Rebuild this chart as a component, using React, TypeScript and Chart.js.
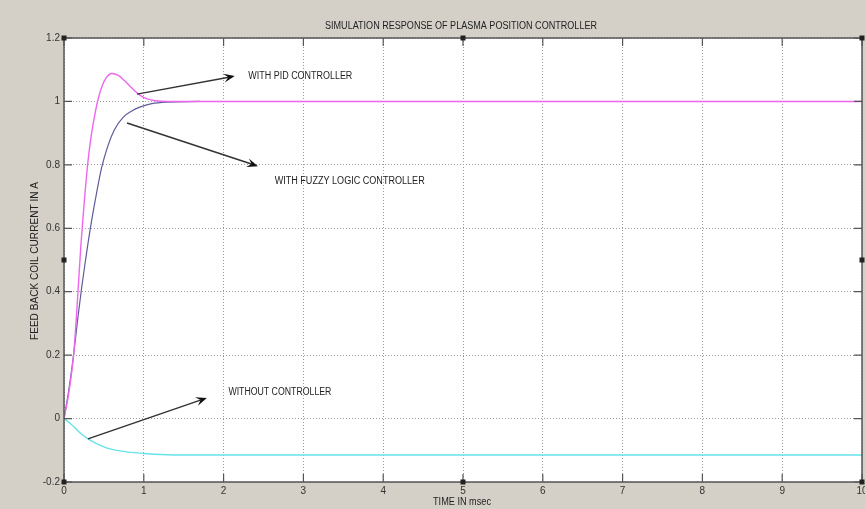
import React, { useEffect, useRef } from "react";
import { Chart, registerables } from "chart.js";
Chart.register(...registerables);

const TITLE = "SIMULATION RESPONSE OF PLASMA POSITION CONTROLLER";
const X_TITLE = "TIME IN msec";
const Y_TITLE = "FEED BACK COIL CURRENT IN A";

const pidT = [0, 0.06, 0.12, 0.15, 0.18, 0.21, 0.24, 0.27, 0.3, 0.34, 0.38, 0.43, 0.48, 0.53, 0.6, 0.68, 0.76, 0.85, 0.95, 1.05, 1.15, 1.3, 2, 4, 6, 8, 10];
const pidV = [0, 0.08, 0.2, 0.3, 0.42, 0.54, 0.64, 0.73, 0.81, 0.89, 0.95, 1.01, 1.05, 1.075, 1.088, 1.082, 1.065, 1.042, 1.02, 1.007, 1.002, 1.0, 1.0, 1.0, 1.0, 1.0, 1.0];

const fuzzyT = [0, 0.06, 0.12, 0.17, 0.22, 0.27, 0.33, 0.4, 0.47, 0.55, 0.63, 0.74, 0.85, 0.95, 1.1, 1.3, 1.7];
const fuzzyV = [0, 0.09, 0.2, 0.31, 0.41, 0.5, 0.6, 0.7, 0.79, 0.86, 0.91, 0.95, 0.97, 0.982, 0.993, 0.998, 1.0];

const noCtrlT = [0, 0.1, 0.2, 0.3, 0.5, 0.7, 1.0, 1.3, 1.6, 4, 7, 10];
const noCtrlV = [0, -0.02, -0.045, -0.064, -0.089, -0.102, -0.11, -0.114, -0.115, -0.115, -0.115, -0.115];

const xTicks = [0, 1, 2, 3, 4, 5, 6, 7, 8, 9, 10];
const yTicks = [-0.2, 0, 0.2, 0.4, 0.6, 0.8, 1, 1.2];

// annotations in data units
const annLabels = ["WITH PID CONTROLLER", "WITH FUZZY LOGIC CONTROLLER", "WITHOUT CONTROLLER"];
const annTextX = [2.31, 2.64, 2.06];
const annTextY = [1.08, 0.749, 0.084];
const annTextW = [104, 150, 103];
const arrowFromX = [0.915, 0.79, 0.3];
const arrowFromY = [1.023, 0.932, -0.064];
const arrowToX = [2.14, 2.43, 1.79];
const arrowToY = [1.08, 0.796, 0.065];

const FONT = '"Liberation Sans", Arial, sans-serif';

function drawFitText(ctx: CanvasRenderingContext2D, text: string, cx: number, cy: number, width: number, size: number, align: "left" | "center") {
  ctx.save();
  ctx.font = `${size}px ${FONT}`;
  ctx.textBaseline = "middle";
  ctx.textAlign = "left";
  const m = ctx.measureText(text).width;
  const s = width / m;
  const left = align === "center" ? cx - width / 2 : cx;
  ctx.translate(left, cy);
  ctx.scale(s, 1);
  ctx.fillText(text, 0, 0);
  ctx.restore();
}

function toXY(t: number[], v: number[]) {
  return t.map((x, i) => ({ x, y: v[i] }));
}

const framePlugin = {
  id: "frame",
  beforeDraw(chart: any) {
    const { ctx, chartArea: a } = chart;
    ctx.save();
    ctx.fillStyle = "#ffffff";
    ctx.fillRect(a.left, a.top, a.right - a.left, a.bottom - a.top);
    ctx.restore();
  },
  afterDraw(chart: any) {
    const { ctx, chartArea: a, scales } = chart;
    const xs = scales.x, ys = scales.y;
    ctx.save();
    ctx.strokeStyle = "#555555";
    ctx.lineWidth = 1.5;
    ctx.strokeRect(a.left, a.top, a.right - a.left, a.bottom - a.top);
    ctx.lineWidth = 1.2;
    ctx.strokeStyle = "#555555";
    const L = 8;
    xTicks.forEach((t) => {
      const px = xs.getPixelForValue(t);
      ctx.beginPath();
      ctx.moveTo(px, a.bottom); ctx.lineTo(px, a.bottom - L);
      ctx.moveTo(px, a.top); ctx.lineTo(px, a.top + L);
      ctx.stroke();
    });
    yTicks.forEach((t) => {
      const py = ys.getPixelForValue(t);
      ctx.beginPath();
      ctx.moveTo(a.left, py); ctx.lineTo(a.left + L, py);
      ctx.moveTo(a.right, py); ctx.lineTo(a.right - L, py);
      ctx.stroke();
    });
    ctx.fillStyle = "#222222";
    const mx = (a.left + a.right) / 2, my = (a.top + a.bottom) / 2;
    const pts = [[a.left, a.top], [mx, a.top], [a.right, a.top], [a.left, my], [a.right, my], [a.left, a.bottom], [mx, a.bottom], [a.right, a.bottom]];
    pts.forEach(([px, py]) => ctx.fillRect(px - 2.5, py - 2.5, 5, 5));

    ctx.fillStyle = "#222222";
    drawFitText(ctx, TITLE, 461, 26, 272, 10, "center");
    drawFitText(ctx, X_TITLE, 462, 502, 58, 10, "center");
    ctx.save();
    ctx.translate(35, 261);
    ctx.rotate(-Math.PI / 2);
    drawFitText(ctx, Y_TITLE, 0, 0, 158, 10, "center");
    ctx.restore();

    for (let i = 0; i < annLabels.length; i++) {
      const tx = xs.getPixelForValue(annTextX[i]);
      const ty = ys.getPixelForValue(annTextY[i]);
      drawFitText(ctx, annLabels[i], tx, ty, annTextW[i], 10, "left");
      const x1 = xs.getPixelForValue(arrowFromX[i]);
      const y1 = ys.getPixelForValue(arrowFromY[i]);
      const x2 = xs.getPixelForValue(arrowToX[i]);
      const y2 = ys.getPixelForValue(arrowToY[i]);
      const ang = Math.atan2(y2 - y1, x2 - x1);
      ctx.strokeStyle = "#333333";
      ctx.lineWidth = 1.5;
      ctx.beginPath();
      ctx.moveTo(x1, y1);
      ctx.lineTo(x2 - 6 * Math.cos(ang), y2 - 6 * Math.sin(ang));
      ctx.stroke();
      ctx.fillStyle = "#111111";
      const hl = 11, hw = 4.5;
      ctx.beginPath();
      ctx.moveTo(x2, y2);
      ctx.lineTo(x2 - hl * Math.cos(ang) + hw * Math.sin(ang), y2 - hl * Math.sin(ang) - hw * Math.cos(ang));
      ctx.lineTo(x2 - 0.6 * hl * Math.cos(ang), y2 - 0.6 * hl * Math.sin(ang));
      ctx.lineTo(x2 - hl * Math.cos(ang) - hw * Math.sin(ang), y2 - hl * Math.sin(ang) + hw * Math.cos(ang));
      ctx.closePath();
      ctx.fill();
      ctx.fillStyle = "#222222";
    }
    ctx.restore();
  },
};

export default function App() {
  const ref = useRef<HTMLCanvasElement | null>(null);
  useEffect(() => {
    if (!ref.current) return;
    const chart = new Chart(ref.current, {
      type: "line",
      data: {
        datasets: [
          {
            label: "WITH PID CONTROLLER",
            data: toXY(pidT, pidV),
            borderColor: "#ee66ee",
            borderWidth: 1.4,
            pointRadius: 0,
            cubicInterpolationMode: "monotone",
          },
          {
            label: "WITH FUZZY LOGIC CONTROLLER",
            data: toXY(fuzzyT, fuzzyV),
            borderColor: "#5c5c9c",
            borderWidth: 1.2,
            pointRadius: 0,
            cubicInterpolationMode: "monotone",
          },
          {
            label: "WITHOUT CONTROLLER",
            data: toXY(noCtrlT, noCtrlV),
            borderColor: "#66e4ea",
            borderWidth: 1.4,
            pointRadius: 0,
            cubicInterpolationMode: "monotone",
          },
        ],
      },
      options: {
        animation: false,
        responsive: false,
        maintainAspectRatio: false,
        layout: { padding: { left: 0, top: 38, right: 3, bottom: 0 } },
        plugins: { legend: { display: false }, tooltip: { enabled: false }, title: { display: false } },
        scales: {
          x: {
            type: "linear",
            min: 0,
            max: 10,
            afterBuildTicks: (s: any) => { s.ticks = xTicks.map((v) => ({ value: v })); },
            afterFit: (s: any) => { s.height = 27; s.paddingLeft = 0; s.paddingRight = 0; },
            ticks: { color: "#333333", font: { family: FONT, size: 10 }, padding: 3, maxRotation: 0, autoSkip: false },
            grid: { color: "#999999", lineWidth: 1, drawTicks: false },
            border: { display: false, dash: [1, 2] },
          },
          y: {
            type: "linear",
            min: -0.2,
            max: 1.2,
            afterBuildTicks: (s: any) => { s.ticks = yTicks.map((v) => ({ value: v })); },
            afterFit: (s: any) => { s.width = 64; s.paddingTop = 0; s.paddingBottom = 0; },
            ticks: {
              color: "#333333",
              font: { family: FONT, size: 10 },
              padding: 4,
              autoSkip: false,
              callback: (v: any) => String(Math.round(Number(v) * 10) / 10),
            },
            grid: { color: "#999999", lineWidth: 1, drawTicks: false },
            border: { display: false, dash: [1, 2] },
          },
        },
      },
      plugins: [framePlugin],
    } as any);
    return () => chart.destroy();
  }, []);
  return (
    <div style={{ position: "fixed", left: 0, top: 0, width: 865, height: 509, background: "#d4d0c8" }}>
      <canvas ref={ref} width={865} height={509} style={{ width: 865, height: 509, display: "block" }} />
    </div>
  );
}
